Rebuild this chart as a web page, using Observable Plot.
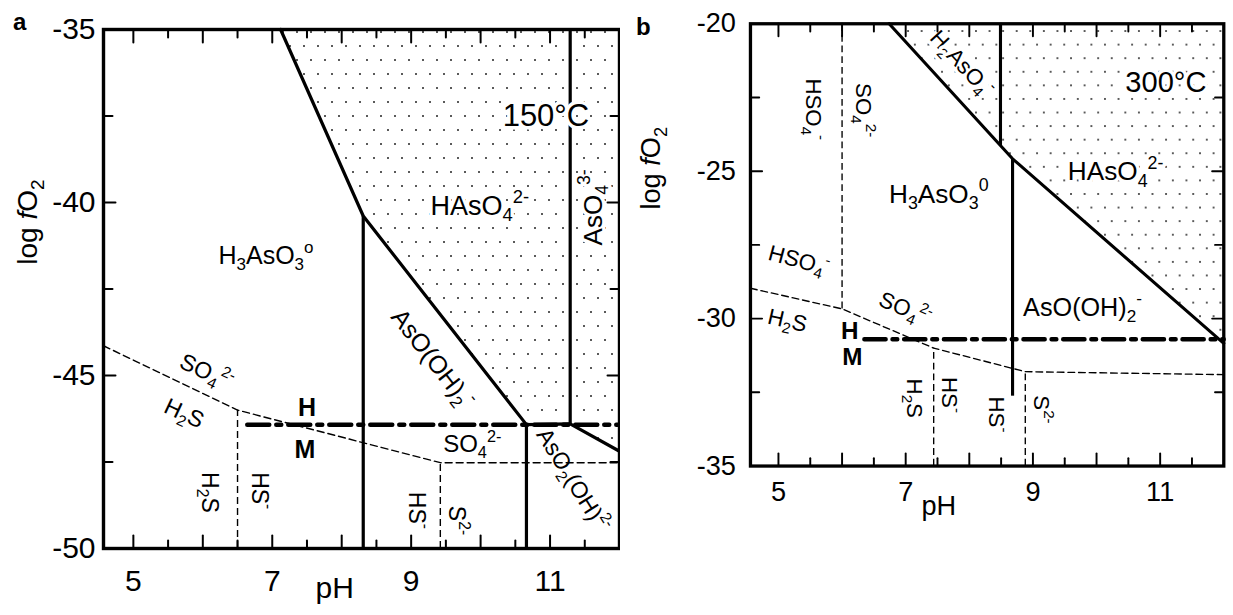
<!DOCTYPE html>
<html><head><meta charset="utf-8">
<script src="https://cdn.jsdelivr.net/npm/d3@7"></script>
<script src="https://cdn.jsdelivr.net/npm/@observablehq/plot@0.6"></script>
<style>
html,body{margin:0;padding:0;background:#fff;overflow:hidden}
#wrap{position:relative;width:1233px;height:615px;overflow:hidden;font-family:"Liberation Sans",Arial,Helvetica,sans-serif}
.pane{position:absolute;top:0}
.tag{position:absolute;font-weight:bold;font-size:24px;line-height:1}
</style></head><body>
<div id="wrap">
  <div id="pa" class="pane" style="left:0px"></div>
  <div id="pb" class="pane" style="left:620px"></div>
  <div class="tag" style="left:13px;top:10px">a</div>
  <div class="tag" style="left:636px;top:15px">b</div>
</div>
<script>
// ================= DATA : panel a (150 °C) =================
const aPHDomain = [4.57, 12];
const aLogfDomain = [-50, -35];
const aAsVPH   = [7.12, 8.31, 10.66, 11.29, 12];
const aAsVLogf = [-35, -40.39, -46.42, -46.40, -47.19];
const aAsVertPH  = [8.31, 10.66, 11.29];
const aAsVertLo  = [-50, -50, -46.40];
const aAsVertHi  = [-40.39, -46.42, -35];
const aHMPH   = [6.64, 12];
const aHMLogf = [-46.42, -46.42];
const aSPH   = [4.57, 6.5, 9.42, 12];
const aSLogf = [-44.14, -46.0, -47.52, -47.52];
const aSVertPH = [6.5, 9.42];
const aSVertLo = [-50, -50];
const aSVertHi = [-46.0, -47.52];
const aLabText  = ["H_{3}AsO_{3}^{o}", "HAsO_{4}^{2-}", "150°C", "AsO_{4}^{3-}", "AsO(OH)_{2}^{-}", "SO_{4}^{2-}", "H_{2}S", "SO_{4}^{2-}", "H_{2}S", "HS^{-}", "HS^{-}", "S^{2-}", "AsO_{2}(OH)^{2-}"];
const aLabPH    = [6.91, 9.99, 10.94, 11.63, 9.31, 6.05, 5.73, 9.88, 6.1, 6.82, 9.08, 9.65, 11.33];
const aLabLogf  = [-41.55, -40.1, -37.5, -40.14, -44.52, -44.9, -46.1, -47.0, -48.38, -48.33, -48.9, -49.19, -48.03];
const aBoldText = ["H", "M"];
const aBoldPH   = [7.5, 7.47];
const aBoldLogf = [-45.95, -47.14];

// ================= DATA : panel b (300 °C) =================
const bPHDomain = [4.56, 12];
const bLogfDomain = [-35, -20];
const bAsVPH   = [6.74, 8.68, 12];
const bAsVLogf = [-20, -24.58, -30.84];
const bAsVertPH = [8.49, 8.68];
const bAsVertLo = [-24.13, -32.63];
const bAsVertHi = [-20, -24.58];
const bHMPH   = [6.35, 12];
const bHMLogf = [-30.7, -30.7];
const bSPH   = [4.56, 6.0, 7.44, 8.88, 12];
const bSLogf = [-28.97, -29.67, -31.0, -31.8, -31.9];
const bSVertPH = [6.0, 7.44, 8.88];
const bSVertLo = [-29.67, -35, -35];
const bSVertHi = [-20, -31.0, -31.8];
const bLabText = ["HSO_{4}^{-}", "SO_{4}^{2-}", "H_{2}AsO_{4}^{-}", "300°C", "HAsO_{4}^{2-}", "H_{3}AsO_{3}^{0}", "HSO_{4}^{-}", "H_{2}S", "SO_{4}^{2-}", "H_{2}S", "HS^{-}", "HS^{-}", "S^{2-}", "AsO(OH)_{2}^{-}"];
const bLabPH   = [5.55, 6.33, 7.88, 11.09, 10.3, 7.52, 5.32, 5.14, 6.99, 7.14, 7.68, 8.42, 9.13, 9.78];
const bLabLogf = [-22.9, -22.93, -21.35, -22.0, -25.03, -25.8, -28.03, -30.07, -29.67, -32.7, -32.59, -33.25, -33.08, -29.63];
const bBoldText = ["H", "M"];
const bBoldPH   = [6.12, 6.16];
const bBoldLogf = [-30.42, -31.3];

// ================= AXES =================
const xMajorTicks = [5, 6, 7, 8, 9, 10, 11];
const xMinorTicks = [5.5, 6.5, 7.5, 8.5, 9.5, 10.5, 11.5];
const xTickLabels = [5, 7, 9, 11];
const aYMajorTicks = [-45, -40], aYMinorTicks = [-47.5, -42.5, -37.5], aYTickLabels = [-50, -45, -40, -35];
const bYMajorTicks = [-30, -25], bYMinorTicks = [-32.5, -27.5, -22.5], bYTickLabels = [-35, -30, -25, -20];

// ================= STYLE (not data) =================
const aLabStyle = {
  rotate: [0, 0, 0, -90, 52, 25, 25, 0, 90, 90, 90, 90, 58],
  size:   [25, 27, 31, 26, 25, 23, 23, 24, 23, 23, 23, 23, 23],
  halo:   [0, 1, 1, 1, 0, 0, 0, 0, 0, 0, 0, 0, 0]
};
const bLabStyle = {
  rotate: [90, 90, 47, 0, 0, 0, 15, 13, 23, 90, 90, 90, 90, 0],
  size:   [23, 23, 23, 30, 27, 27, 23, 23, 23, 23, 23, 23, 23, 26],
  halo:   [0, 0, 1, 1, 1, 0, 0, 0, 0, 0, 0, 0, 0, 0]
};
const TICK_COLOR = "black", TICK_W = 2;
const X_MAJ = 13, X_MIN = 8, Y_MAJ = 12, Y_MIN = 9;

const NS = "http://www.w3.org/2000/svg";
const FONT = "'Liberation Sans', Arial, Helvetica, sans-serif";
const pts = (xs, ys) => xs.map((x, i) => ({x, y: ys[i]}));
const rules = (xs, lo, hi) => xs.map((x, i) => ({x, y1: lo[i], y2: hi[i]}));

function richify(svg) {
  for (const t of svg.querySelectorAll("text")) {
    const s = t.textContent;
    if (!/[_^*]/.test(s)) continue;
    const F = parseFloat(getComputedStyle(t).fontSize);
    const parts = s.match(/_\{[^}]*\}|\^\{[^}]*\}|\*[^*]*\*|[^_^*]+/g);
    while (t.firstChild) t.removeChild(t.firstChild);
    let cur = 0;
    for (const p of parts) {
      let txt = p, shift = 0, small = false, ital = false;
      if (p[0] === "_") { txt = p.slice(2, -1); shift = 0.24 * F; small = true; }
      else if (p[0] === "^") { txt = p.slice(2, -1); shift = -0.45 * F; small = true; }
      else if (p[0] === "*") { txt = p.slice(1, -1); ital = true; }
      const ts = document.createElementNS(NS, "tspan");
      ts.textContent = txt;
      if (small) ts.setAttribute("font-size", (0.68 * F).toFixed(1) + "px");
      if (ital) ts.setAttribute("font-style", "italic");
      if (shift !== cur) { ts.setAttribute("dy", (shift - cur).toFixed(1)); cur = shift; }
      t.appendChild(ts);
    }
  }
}

function addPattern(svg, id) {
  const defs = document.createElementNS(NS, "defs");
  const pat = document.createElementNS(NS, "pattern");
  pat.setAttribute("id", id);
  pat.setAttribute("patternUnits", "userSpaceOnUse");
  pat.setAttribute("width", "14");
  pat.setAttribute("height", "28");
  for (const [cx, cy] of [[3, 4], [10, 18]]) {
    const c = document.createElementNS(NS, "circle");
    c.setAttribute("cx", cx); c.setAttribute("cy", cy); c.setAttribute("r", "1");
    c.setAttribute("fill", "#222");
    pat.appendChild(c);
  }
  defs.appendChild(pat);
  svg.insertBefore(defs, svg.firstChild);
}

function makePanel(o) {
  const fw = o.width - o.ml - o.mr, fh = o.height - o.mt - o.mb;
  const [xa, xb] = o.xDomain, [ya, yb] = o.yDomain;
  const dY = px => px * (yb - ya) / fh;   // pixel length -> logfO2 units
  const dX = px => px * (xb - xa) / fw;   // pixel length -> pH units
  const tickSegs = [];
  let k = 0;
  const addX = (vals, len) => vals.forEach(v => {
    tickSegs.push({k, x: v, y: ya}, {k, x: v, y: ya + dY(len)}); k++;
    tickSegs.push({k, x: v, y: yb}, {k, x: v, y: yb - dY(len)}); k++;
  });
  const addY = (vals, len) => vals.forEach(v => {
    tickSegs.push({k, x: xa, y: v}, {k, x: xa + dX(len), y: v}); k++;
    tickSegs.push({k, x: xb, y: v}, {k, x: xb - dX(len), y: v}); k++;
  });
  addX(xMajorTicks, X_MAJ); addX(xMinorTicks, X_MIN);
  addY(o.yMajor, Y_MAJ); addY(o.yMinor, Y_MIN);

  const labels = o.labText.map((t, i) => ({t, x: o.labPH[i], y: o.labLogf[i], r: o.style.rotate[i], s: o.style.size[i], h: o.style.halo[i]}));
  const bold = o.boldText.map((t, i) => ({t, x: o.boldPH[i], y: o.boldLogf[i]}));
  const marks = [
    Plot.areaY(pts(o.asvPH, o.asvLogf), {x: "x", y1: "y", y2: yb, fill: `url(#${o.pid})`, curve: "linear"}),
    // sulfur boundaries (dashed)
    Plot.line(pts(o.sPH, o.sLogf), {x: "x", y: "y", stroke: "black", strokeWidth: 1.4, strokeDasharray: "7,4"}),
    Plot.ruleX(rules(o.sVertPH, o.sVertLo, o.sVertHi), {x: "x", y1: "y1", y2: "y2", stroke: "black", strokeWidth: 1.4, strokeDasharray: "7,4"}),
    // H/M buffer (dash-dot)
    Plot.line(pts(o.hmPH, o.hmLogf), {x: "x", y: "y", stroke: "black", strokeWidth: 4.5, strokeDasharray: "22,7,5,7"}),
    // arsenic boundaries
    Plot.line(pts(o.asvPH, o.asvLogf), {x: "x", y: "y", stroke: "black", strokeWidth: 3.2, strokeLinejoin: "miter"}),
    Plot.ruleX(rules(o.asVertPH, o.asVertLo, o.asVertHi), {x: "x", y1: "y1", y2: "y2", stroke: "black", strokeWidth: 3.2}),
    Plot.frame({stroke: "black", strokeWidth: 3.4}),
    Plot.axisX({ticks: xTickLabels, tickSize: 0, tickPadding: o.xPad, fontSize: o.tickFont, tickFormat: d => String(d), label: null}),
    Plot.axisY({ticks: o.yTickLabels, tickSize: 0, tickPadding: o.yPad, fontSize: o.tickFont, tickFormat: d => String(d), label: null}),
    // field labels
    Plot.text(labels.filter(d => d.h), {x: "x", y: "y", text: "t", rotate: "r", fontSize: "s", fill: "black", stroke: "white", strokeWidth: 7, strokeLinejoin: "round"}),
    Plot.text(labels.filter(d => !d.h), {x: "x", y: "y", text: "t", rotate: "r", fontSize: "s", fill: "black"}),
    Plot.text(bold, {x: "x", y: "y", text: "t", fontSize: 25, fontWeight: "bold", fill: "black"}),
    // axis titles
    Plot.text([o.xTitle], {x: "x", text: () => "pH", frameAnchor: "bottom", dy: o.xTitleDy, fontSize: o.tickFont, fill: "black"}),
    Plot.text([o.yTitle], {y: "y", text: () => "log *f*O_{2}", frameAnchor: "left", dx: o.yTitleDx, rotate: -90, fontSize: 28, fill: "black"}),
    // inward ticks on all four sides
    Plot.line(tickSegs, {x: "x", y: "y", z: "k", stroke: TICK_COLOR, strokeWidth: TICK_W})
  ];
  const svg = Plot.plot({
    width: o.width, height: o.height,
    marginLeft: o.ml, marginRight: o.mr, marginTop: o.mt, marginBottom: o.mb,
    x: {domain: o.xDomain}, y: {domain: o.yDomain},
    style: {background: "white", fontFamily: FONT, overflow: "visible", color: "black"},
    marks
  });
  addPattern(svg, o.pid);
  return svg;
}

const svgA = makePanel({
  pid: "dotsA", width: 630, height: 615, ml: 103, mr: 11, mt: 29, mb: 67,
  xDomain: aPHDomain, yDomain: aLogfDomain,
  asvPH: aAsVPH, asvLogf: aAsVLogf, asVertPH: aAsVertPH, asVertLo: aAsVertLo, asVertHi: aAsVertHi,
  hmPH: aHMPH, hmLogf: aHMLogf, sPH: aSPH, sLogf: aSLogf, sVertPH: aSVertPH, sVertLo: aSVertLo, sVertHi: aSVertHi,
  labText: aLabText, labPH: aLabPH, labLogf: aLabLogf, style: aLabStyle,
  boldText: aBoldText, boldPH: aBoldPH, boldLogf: aBoldLogf,
  yMajor: aYMajorTicks, yMinor: aYMinorTicks, yTickLabels: aYTickLabels,
  tickFont: 30, xPad: 21, yPad: 8, xTitle: {x: 7.9}, xTitleDy: 49, yTitle: {y: -41.8}, yTitleDx: -75
});
document.getElementById("pa").appendChild(svgA);
richify(svgA);

const svgB = makePanel({
  pid: "dotsB", width: 632, height: 615, ml: 134, mr: 10, mt: 24, mb: 135,
  xDomain: bPHDomain, yDomain: bLogfDomain,
  asvPH: bAsVPH, asvLogf: bAsVLogf, asVertPH: bAsVertPH, asVertLo: bAsVertLo, asVertHi: bAsVertHi,
  hmPH: bHMPH, hmLogf: bHMLogf, sPH: bSPH, sLogf: bSLogf, sVertPH: bSVertPH, sVertLo: bSVertLo, sVertHi: bSVertHi,
  labText: bLabText, labPH: bLabPH, labLogf: bLabLogf, style: bLabStyle,
  boldText: bBoldText, boldPH: bBoldPH, boldLogf: bBoldLogf,
  yMajor: bYMajorTicks, yMinor: bYMinorTicks, yTickLabels: bYTickLabels,
  tickFont: 28, xPad: 16, yPad: 15, xTitle: {x: 7.52}, xTitleDy: 50, yTitle: {y: -26.3}, yTitleDx: -102
});
document.getElementById("pb").appendChild(svgB);
richify(svgB);
</script>
</body></html>
